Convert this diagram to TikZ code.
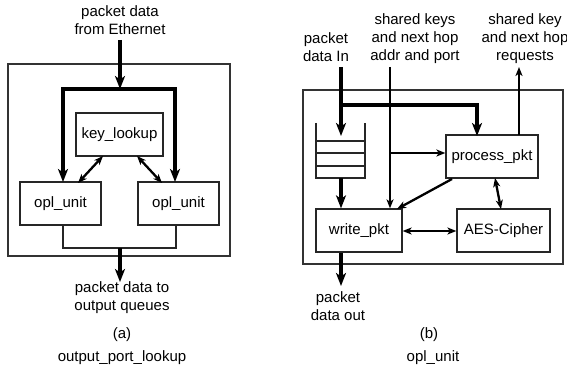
\documentclass[tikz,border=0pt]{standalone}
\usepackage{fontspec}
\setmainfont{Liberation Sans}
\usetikzlibrary{arrows.meta}
\begin{document}
\begin{tikzpicture}[x=1pt,y=-1pt,
  every node/.style={font=\fontsize{15}{18}\selectfont},
  box/.style={draw=black!85, line width=1.3pt, inner sep=0pt, minimum height=43pt},
  frame/.style={draw=black!80, line width=1.4pt},
  txt/.style={inner sep=0pt, align=center},
  bigarrow/.style={line width=4pt, -{Stealth[length=13pt,width=10pt,inset=3.5pt]}},
  bigline/.style={line width=4pt},
  midarrow/.style={line width=2.3pt, -{Stealth[length=9pt,width=7pt,inset=2.5pt]}},
  midline/.style={line width=2.3pt},
  twoarrow/.style={line width=2.3pt, {Stealth[length=9pt,width=7pt,inset=2.5pt]}-{Stealth[length=9pt,width=7pt,inset=2.5pt]}},
  thinline/.style={draw=black!85, line width=1.3pt}
]
\useasboundingbox (0,0) rectangle (567,371);

% ---------------- (a) ----------------
\draw[frame] (8,64) rectangle (230,256);
\node[txt] (inAtxt) at (120,20) {packet data\\from Ethernet};
\node[box, minimum width=87pt] (key) at (119.5,134.5) {key\_lookup};
\node[box, minimum width=81pt] (oplL) at (60.5,203.5) {opl\_unit};
\node[box, minimum width=81pt] (oplR) at (178.5,203.5) {opl\_unit};
\node[txt] (outAtxt) at (122,297.5) {packet data to\\output queues};
\node[txt] (capA) at (122,335) {(a)};
\node[txt] (nameA) at (122,358) {output\_port\_lookup};

\coordinate (aIn) at (120,40);
\coordinate (aBar) at (120,89);
\coordinate (aL) at (63,182);
\coordinate (aR) at (175,182);
\draw[bigarrow] (aIn) -- (aBar);
\draw[bigarrow, line join=miter] (aBar) -| (aL);
\draw[bigarrow, line join=miter] (aBar) -| (aR);

\coordinate (kL) at (103,156);
\coordinate (oL) at (78,183);
\coordinate (kR) at (137,156);
\coordinate (oR) at (162,183);
\draw[twoarrow] (kL) -- (oL);
\draw[twoarrow] (kR) -- (oR);

\coordinate (oLb) at (63,225);
\coordinate (oRb) at (176,225);
\coordinate (aJoin) at (120,248);
\coordinate (aOut) at (120,282);
\draw[thinline] (oLb) |- (aJoin) -| (oRb);
\draw[bigarrow] (aJoin) -- (aOut);

% ---------------- (b) ----------------
\draw[frame] (303,90) rectangle (563,264);
\node[txt] (inBtxt) at (326,47.5) {packet\\data In};
\node[txt] (keysTxt) at (415,38.5) {shared keys\\and next hop\\addr and port};
\node[txt] (reqTxt) at (525,38.5) {shared key\\and next hop\\requests};
\node[box, minimum width=92pt] (proc) at (492,156.5) {process\_pkt};
\node[box, minimum width=86pt] (write) at (359,230.5) {write\_pkt};
\node[box, minimum width=93pt] (aes) at (503.5,230.5) {AES-Cipher};
\node[txt] (outBtxt) at (338,306) {packet\\data out};
\node[txt] (capB) at (429,335) {(b)};
\node[txt] (nameB) at (433,358) {opl\_unit};

% queue
\draw[thinline] (316,123) -- (316,178) -- (365,178) -- (365,123);
\draw[thinline] (316,141) -- (365,141);
\draw[thinline] (316,153) -- (365,153);
\draw[thinline] (316,166) -- (365,166);

\coordinate (bIn) at (341,67);
\coordinate (bSplit) at (341,105);
\coordinate (qTop) at (341,136);
\coordinate (pTop) at (477,136);
\coordinate (qBot) at (341,178);
\draw[bigline] (bIn) -- (bSplit);
\draw[bigarrow] (bSplit) -- (qTop);
\draw[bigarrow, line join=miter] ([xshift=-2pt]bSplit) -| (pTop);
\draw[bigarrow] (qBot) -- (write.north -| qBot);

\coordinate (kTop) at (390,67);
\coordinate (kSplit) at (390,153);
\draw[midarrow] (kTop) -- (write.north -| kTop);
\draw[midarrow] (kSplit) -- (proc.west |- kSplit);

\coordinate (rBot) at (519,135);
\coordinate (rTop) at (519,67);
\draw[midarrow] (rBot) -- (rTop);

\coordinate (pdl) at (452,179);
\coordinate (wtr) at (397,209);
\draw[midarrow] (pdl) -- (wtr);

\coordinate (pb) at (495,178);
\coordinate (at) at (501,209);
\draw[twoarrow] (pb) -- (at);

\draw[twoarrow] (write.east |- 0,231) -- (aes.west |- 0,231);

\coordinate (wOut) at (341,286);
\draw[bigarrow] (write.south -| wOut) -- (wOut);
\end{tikzpicture}
\end{document}
